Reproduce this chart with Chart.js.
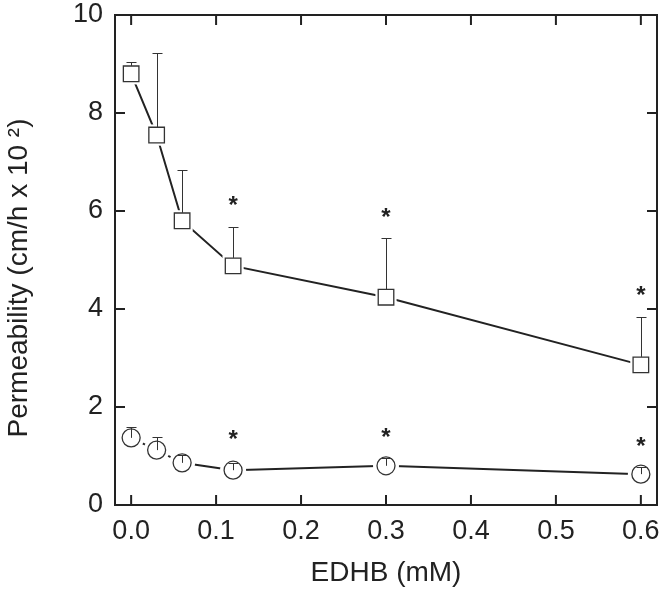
<!DOCTYPE html>
<html>
<head>
<meta charset="utf-8">
<script src="https://cdn.jsdelivr.net/npm/chart.js@4"></script>
<style>
  html, body { margin: 0; padding: 0; background: #fff; }
  #wrap { width: 672px; height: 594px; }
</style>
</head>
<body>
<div id="wrap"><canvas id="permChart" width="672" height="594"></canvas></div>
<script>
// EDHB concentration (mM)
const edhb = [0, 0.03, 0.06, 0.12, 0.3, 0.6];

// squares: mean and upper error
const squareMean = [8.8, 7.55, 5.8, 4.88, 4.24, 2.86];
const squareErr = [9.04, 9.22, 6.84, 5.67, 5.45, 3.84];

// circles: mean and upper error
const circleMean = [1.37, 1.12, 0.86, 0.71, 0.8, 0.63];
const circleErr = [1.59, 1.39, 1.02, 0.86, 0.95, 0.78];

// significance stars
const starX = [0.12, 0.3, 0.6];
const starSquares = [6.22, 5.96, 4.37];
const starCircles = [1.43, 1.47, 1.29];

const xTicks = [0, 0.1, 0.2, 0.3, 0.4, 0.5, 0.6];
const yTicks = [0, 2, 4, 6, 8, 10];

const FONT = "'Liberation Sans', Arial, Helvetica, sans-serif";
const ink = '#222';

function points(xs, ys) {
  return xs.map((x, i) => ({ x: x, y: ys[i] }));
}

// connecting line, white halo (leaves a gap), then the open marker
function series(ys, style, r, baseOrder) {
  const data = points(edhb, ys);
  return [
    { data, showLine: true, borderColor: ink, borderWidth: 2, pointRadius: 0, order: baseOrder + 2 },
    { data, showLine: false, pointStyle: style, pointRadius: r + 4, pointBorderWidth: 0,
      pointBackgroundColor: '#fff', pointBorderColor: '#fff', order: baseOrder + 1 },
    { data, showLine: false, pointStyle: style, pointRadius: r, pointBorderWidth: 1.3,
      pointBorderColor: '#333', pointBackgroundColor: '#fff', order: baseOrder }
  ];
}

// upward error bars, stars, frame and mirrored inward ticks
const decorPlugin = {
  id: 'decor',
  afterDatasetsDraw(chart) {
    const { ctx, chartArea: a, scales: { x, y } } = chart;
    ctx.save();

    // error bars
    ctx.strokeStyle = '#333';
    ctx.lineWidth = 1;
    const bars = [
      { mean: squareMean, err: squareErr, start: 8 },
      { mean: circleMean, err: circleErr, start: 0 }
    ];
    bars.forEach(b => {
      edhb.forEach((v, i) => {
        const px = Math.round(x.getPixelForValue(v)) + 0.5;
        const y0 = y.getPixelForValue(b.mean[i]) - b.start;
        const y1 = Math.round(y.getPixelForValue(b.err[i])) + 0.5;
        ctx.beginPath();
        ctx.moveTo(px, y0);
        ctx.lineTo(px, y1);
        ctx.moveTo(px - 5, y1);
        ctx.lineTo(px + 5, y1);
        ctx.stroke();
      });
    });

    // stars
    ctx.fillStyle = ink;
    ctx.font = 'bold 24px ' + FONT;
    ctx.textAlign = 'center';
    ctx.textBaseline = 'alphabetic';
    const m = ctx.measureText('*');
    const mid = (m.actualBoundingBoxAscent - m.actualBoundingBoxDescent) / 2;
    [starSquares, starCircles].forEach(arr => {
      starX.forEach((v, i) => {
        ctx.fillText('*', x.getPixelForValue(v), y.getPixelForValue(arr[i]) + mid);
      });
    });

    // frame
    ctx.strokeStyle = ink;
    ctx.lineWidth = 2;
    ctx.strokeRect(a.left, a.top, a.right - a.left, a.bottom - a.top);

    // inward ticks on all four sides
    const len = 10;
    ctx.beginPath();
    xTicks.forEach(v => {
      const px = x.getPixelForValue(v);
      ctx.moveTo(px, a.bottom);
      ctx.lineTo(px, a.bottom - len);
      ctx.moveTo(px, a.top);
      ctx.lineTo(px, a.top + len);
    });
    yTicks.forEach(v => {
      const py = y.getPixelForValue(v);
      ctx.moveTo(a.left, py);
      ctx.lineTo(a.left + len, py);
      ctx.moveTo(a.right, py);
      ctx.lineTo(a.right - len, py);
    });
    ctx.stroke();

    // y axis title with the superscript
    ctx.fillStyle = ink;
    ctx.font = '28px ' + FONT;
    ctx.textAlign = 'center';
    ctx.textBaseline = 'middle';
    ctx.translate(19, 278);
    ctx.rotate(-Math.PI / 2);
    ctx.fillText('Permeability (cm/h x 10 \u00B2)', 0, 0);

    ctx.restore();
  }
};

new Chart(document.getElementById('permChart'), {
  type: 'scatter',
  data: {
    datasets: [
      ...series(squareMean, 'rect', 11, 1),
      ...series(circleMean, 'circle', 9, 1)
    ]
  },
  options: {
    responsive: false,
    animation: false,
    layout: { padding: { top: 15, right: 5, left: 0, bottom: 0 } },
    plugins: {
      legend: { display: false },
      tooltip: { enabled: false }
    },
    scales: {
      x: {
        type: 'linear',
        min: -0.019,
        max: 0.619,
        afterBuildTicks: s => { s.ticks = xTicks.map(v => ({ value: v })); },
        afterFit: s => { s.height = 89; s.paddingLeft = 0; s.paddingRight = 0; },
        grid: { display: false, drawTicks: false },
        border: { display: false },
        ticks: {
          padding: 10,
          color: ink,
          font: { family: FONT, size: 27 },
          callback: v => v.toFixed(1)
        },
        title: {
          display: true,
          text: 'EDHB (mM)',
          color: ink,
          font: { family: FONT, size: 28 },
          padding: { top: 0, bottom: 4 }
        }
      },
      y: {
        type: 'linear',
        min: 0,
        max: 10,
        afterBuildTicks: s => { s.ticks = yTicks.map(v => ({ value: v })); },
        afterFit: s => { s.width = 115; s.paddingTop = 0; s.paddingBottom = 0; },
        grid: { display: false, drawTicks: false },
        border: { display: false },
        ticks: {
          padding: 12,
          color: ink,
          font: { family: FONT, size: 27 }
        }
      }
    }
  },
  plugins: [decorPlugin]
});
</script>
</body>
</html>
